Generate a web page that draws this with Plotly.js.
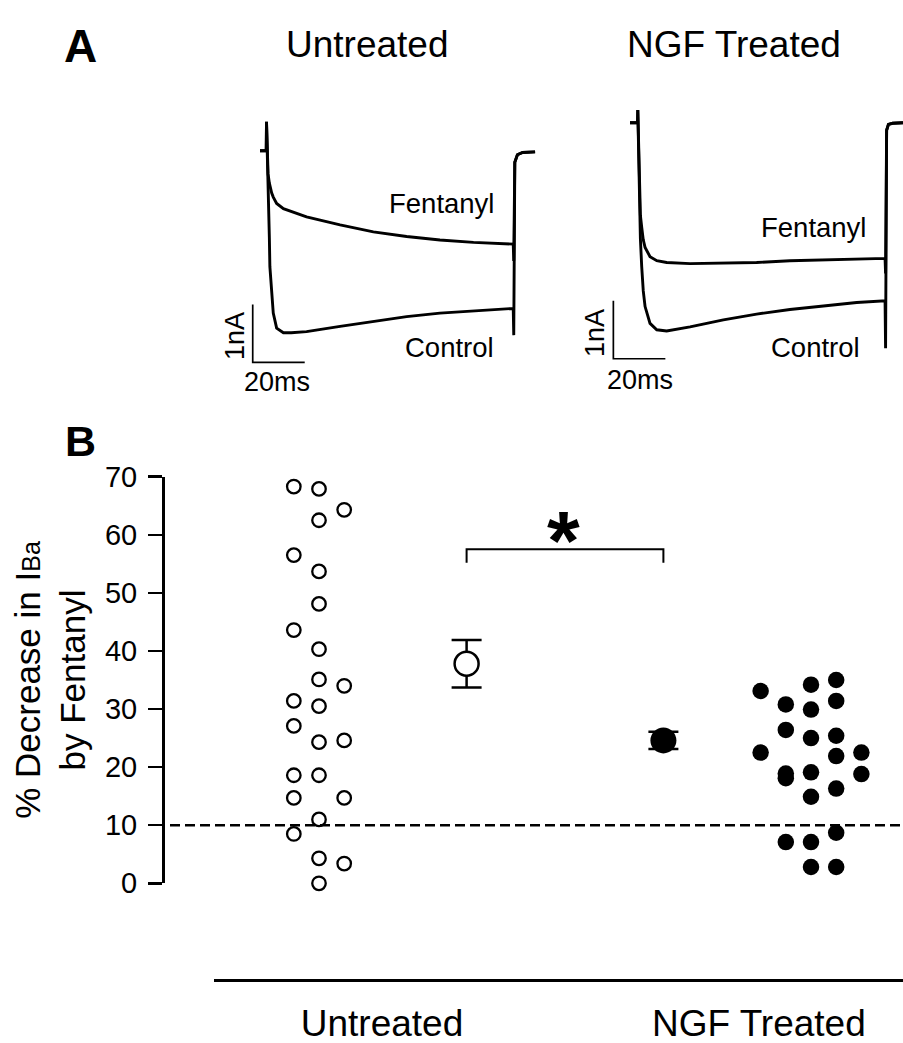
<!DOCTYPE html>
<html><head><meta charset="utf-8">
<script src="https://cdn.plot.ly/plotly-3.0.1.min.js"></script>
<style>html,body{margin:0;padding:0;background:#fff}#chart{width:903px;height:1043px}</style>
</head><body><div id="chart"></div>
<script>
// ---------------- DATA ----------------
// Panel A: current traces (time in ms, current in nA)
const panelTitles = ['Untreated', 'NGF Treated'];
const traceLabels = ['Fentanyl', 'Control'];
const untreatedTime = [0, 2.4, 2.5, 3.1, 3.6, 3.8, 4.5, 5.1, 6.4, 9.0, 12.0, 17.9, 30.8, 43.6, 56.4, 69.2, 82.1, 97.4, 97.6, 98.0, 99.0, 101.0, 105.8];
const untreatedControl = [0, 0, 0.5, -0.4, -1.5, -2.0, -2.55, -2.8, -3.06, -3.14, -3.14, -3.12, -3.03, -2.95, -2.86, -2.80, -2.76, -2.72, -3.18, -0.20, -0.07, -0.03, -0.02];
const untreatedFentanyl = [0, 0, 0.5, -0.4, -0.56, -0.6, -0.73, -0.80, -0.91, -1.00, -1.05, -1.14, -1.28, -1.40, -1.48, -1.54, -1.58, -1.61, -1.90, -0.20, -0.07, -0.03, -0.02];
const ngfTime = [0, 2.9, 3.0, 3.3, 3.6, 4.0, 4.5, 5.1, 5.8, 7.7, 10.3, 14.1, 23.1, 35.9, 48.7, 61.5, 74.4, 87.2, 98.1, 98.3, 98.7, 99.4, 101.0, 105.0];
const ngfControl = [0, 0, 0.22, -0.5, -1.33, -2.0, -2.48, -2.9, -3.17, -3.46, -3.57, -3.59, -3.52, -3.40, -3.30, -3.22, -3.16, -3.10, -3.07, -3.89, -0.13, -0.03, -0.01, 0];
const ngfFentanyl = [0, 0, 0.22, -0.5, -1.33, -1.6, -1.8, -2.02, -2.15, -2.31, -2.38, -2.41, -2.43, -2.42, -2.41, -2.38, -2.37, -2.35, -2.34, -2.6, -0.13, -0.03, -0.01, 0];
const scaleBarMs = 20;   // horizontal scale bar length (ms)
const scaleBarNA = 1;    // vertical scale bar length (nA)
const scaleBarLabels = ['1nA', '20ms'];

// Panel B: % decrease in IBa by fentanyl
const categories = ['Untreated', 'NGF Treated'];
const yTicks = [0, 10, 20, 30, 40, 50, 60, 70];
const untreatedColumn = [-1, -1, -1, -1, -1, -1, -1, -1, 0, 0, 0, 0, 0, 0, 0, 0, 0, 0, 0, 0, 1, 1, 1, 1, 1];
const untreatedValues = [68.3, 56.5, 43.6, 31.4, 27.1, 18.6, 14.7, 8.5, 67.9, 62.5, 53.7, 48.1, 40.3, 35.1, 30.5, 24.3, 18.6, 11.0, 4.3, 0, 64.3, 34.0, 24.6, 14.7, 3.4];
const ngfColumn = [-2, -2, -1, -1, -1, -1, -1, 0, 0, 0, 0, 0, 0, 0, 1, 1, 1, 1, 1, 1, 1, 2, 2];
const ngfValues = [33.1, 22.5, 30.8, 26.4, 18.9, 18.1, 7.1, 34.2, 29.9, 25.0, 19.1, 14.9, 7.1, 2.8, 35.0, 31.4, 25.4, 21.9, 16.3, 8.7, 2.8, 22.5, 18.8];
const groupMeans = [37.8, 24.6];
const groupSEM = [4.1, 1.5];
const thresholdValue = 10;
const bracketLevel = 57.5;
const bracketDrop = 2.3;
const significanceMark = '*';

// ---------------- LAYOUT HELPERS ----------------
const W = 903, H = 1043;
const fx = px => px / W;
const fy = py => 1 - py / H;
const FONT = 'Liberation Sans, Arial, sans-serif';

// panel A geometry (pixels)
const pxPerMs = 2.6, pxPerNA = 58;
function traceAxes(x0, x1, y0, y1, tZeroPx, iZeroPy) {
  return {
    x: {domain: [fx(x0), fx(x1)], range: [(x0 - tZeroPx) / pxPerMs, (x1 - tZeroPx) / pxPerMs],
        visible: false, fixedrange: true},
    y: {domain: [fy(y1), fy(y0)], range: [(iZeroPy - y1) / pxPerNA, (iZeroPy - y0) / pxPerNA],
        visible: false, fixedrange: true}
  };
}
const axU = traceAxes(240, 540, 100, 400, 260, 150.7);
const axN = traceAxes(590, 903, 100, 400, 630, 122.7);
const scaleBarCorner = [[-2.8, -3.65], [-6.4, -4.07]];

// panel B geometry
const groupCenter = [1, 2];
const colStep = 0.0512;
const meanX = [1.3, 1.7];
const xPxAt1 = 319, pxPerUnit = 492;

const traceLine = {color: '#000', width: 2.9};
const traces = [];
// Panel A traces
[[untreatedTime, untreatedControl, untreatedFentanyl, 'x2', 'y2'],
 [ngfTime, ngfControl, ngfFentanyl, 'x3', 'y3']].forEach((g, k) => {
  traces.push({x: g[0], y: g[1], xaxis: g[3], yaxis: g[4], mode: 'lines', line: traceLine, hoverinfo: 'skip', name: panelTitles[k] + ' ' + traceLabels[1]});
  traces.push({x: g[0], y: g[2], xaxis: g[3], yaxis: g[4], mode: 'lines', line: traceLine, hoverinfo: 'skip', name: panelTitles[k] + ' ' + traceLabels[0]});
  const c = scaleBarCorner[k];
  traces.push({x: [c[0], c[0], c[0] + scaleBarMs], y: [c[1] + scaleBarNA, c[1], c[1]], xaxis: g[3], yaxis: g[4],
               mode: 'lines', line: {color: '#000', width: 1.7}, hoverinfo: 'skip'});
});

// Panel B scatter
traces.push({
  x: untreatedColumn.map(c => groupCenter[0] + c * colStep), y: untreatedValues,
  mode: 'markers', cliponaxis: false, name: categories[0],
  marker: {symbol: 'circle', size: 13.5, color: '#fff', line: {color: '#000', width: 2.3}}
});
traces.push({
  x: ngfColumn.map(c => groupCenter[1] + c * colStep), y: ngfValues,
  mode: 'markers', cliponaxis: false, name: categories[1],
  marker: {symbol: 'circle', size: 16.5, color: '#000', line: {color: '#000', width: 0}}
});
// significance bracket
traces.push({
  x: [meanX[0], meanX[0], meanX[1], meanX[1]],
  y: [bracketLevel - bracketDrop, bracketLevel, bracketLevel, bracketLevel - bracketDrop],
  mode: 'lines', line: {color: '#000', width: 2}, cliponaxis: false, hoverinfo: 'skip'
});
// means +- SEM
traces.push({
  x: [meanX[0]], y: [groupMeans[0]], mode: 'markers', cliponaxis: false,
  error_y: {type: 'data', array: [groupSEM[0]], visible: true, color: '#000', thickness: 2.5, width: 15},
  marker: {symbol: 'circle', size: 24, color: '#fff', line: {color: '#000', width: 2.5}}
});
traces.push({
  x: [meanX[1]], y: [groupMeans[1]], mode: 'markers', cliponaxis: false,
  error_y: {type: 'data', array: [groupSEM[1]], visible: true, color: '#000', thickness: 2.5, width: 15},
  marker: {symbol: 'circle', size: 26, color: '#000', line: {color: '#000', width: 0}}
});

const ann = (text, px, py, size, extra) => Object.assign({
  text: text, x: fx(px), y: fy(py), xref: 'paper', yref: 'paper', showarrow: false,
  xanchor: 'center', yanchor: 'middle', font: {family: FONT, size: size, color: '#000'}
}, extra || {});

const annotations = [
  ann('<b>A</b>', 80, 46, 46),
  ann('<b>B</b>', 80, 441, 43),
  ann(panelTitles[0], 367, 45, 37),
  ann(panelTitles[1], 734, 45, 37),
  ann(traceLabels[0], 441, 203, 27.5),
  ann(traceLabels[1], 449, 347, 27.5),
  ann(traceLabels[0], 813, 228, 27.5),
  ann(traceLabels[1], 815, 348, 27.5),
  ann(scaleBarLabels[0], 235, 336, 27, {textangle: -90}),
  ann(scaleBarLabels[1], 277, 382, 27),
  ann(scaleBarLabels[0], 595, 333, 27, {textangle: -90}),
  ann(scaleBarLabels[1], 639.5, 380, 27),
  ann('<b>' + significanceMark + '</b>', 563, 541, 84)
];

const layout = {
  width: W, height: H, margin: {l: 0, r: 0, t: 0, b: 0, pad: 0},
  paper_bgcolor: '#fff', plot_bgcolor: 'rgba(0,0,0,0)', showlegend: false,
  font: {family: FONT, color: '#000'},
  xaxis: {
    domain: [fx(214), 1], range: [1 + (214 - xPxAt1) / pxPerUnit, 1 + (903 - xPxAt1) / pxPerUnit],
    anchor: 'free', position: fy(980), showline: true, linewidth: 2.5, linecolor: '#000',
    showgrid: false, zeroline: false, ticks: '', tickmode: 'array',
    tickvals: [1.128, 1.894], ticktext: categories, tickfont: {size: 37, family: FONT},
    ticklabelstandoff: 10, fixedrange: true
  },
  yaxis: {
    domain: [fy(883.3), fy(476.7)], range: [0, 70], anchor: 'free', position: fx(163),
    showline: true, linewidth: 2.5, linecolor: '#000', showgrid: false, zeroline: false,
    ticks: 'outside', ticklen: 14, tickwidth: 2.5, tickcolor: '#000', tickmode: 'array', tickvals: yTicks,
    tickfont: {size: 29, family: FONT}, ticklabelstandoff: 5, fixedrange: true,
    title: {text: '% Decrease in I<span style="font-size:25px">Ba</span><br>by Fentanyl', font: {size: 35, family: FONT}, standoff: 7}
  },
  xaxis2: Object.assign(axU.x, {anchor: 'y2'}), yaxis2: Object.assign(axU.y, {anchor: 'x2'}),
  xaxis3: Object.assign(axN.x, {anchor: 'y3'}), yaxis3: Object.assign(axN.y, {anchor: 'x3'}),
  shapes: [{
    type: 'line', xref: 'paper', yref: 'y', x0: fx(170), x1: 1, y0: thresholdValue, y1: thresholdValue,
    line: {color: '#000', width: 2.5, dash: '10px,5px'}
  }],
  annotations: annotations
};

Plotly.newPlot('chart', traces, layout, {staticPlot: true, displayModeBar: false});
</script></body></html>
